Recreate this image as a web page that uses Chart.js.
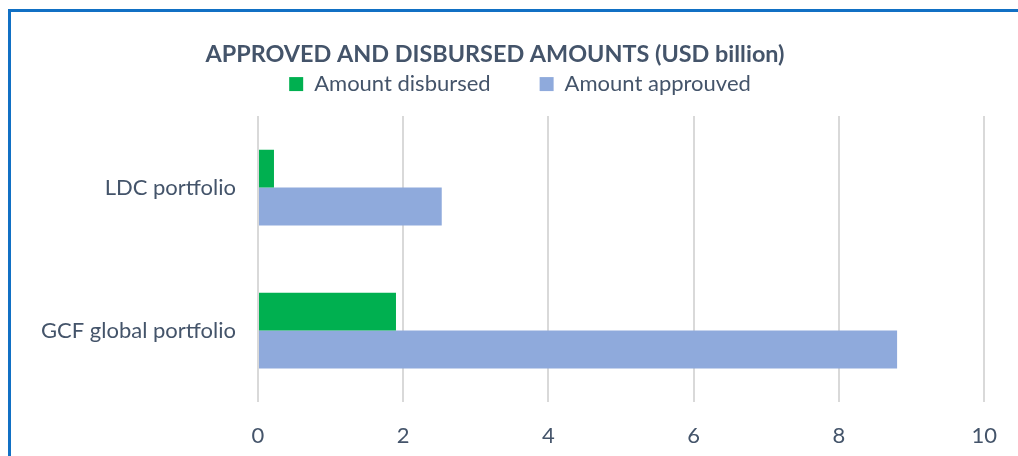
<!DOCTYPE html>
<html>
<head>
<meta charset="utf-8">
<script src="https://cdn.jsdelivr.net/npm/chart.js@4"></script>
<style>
  html, body { margin: 0; padding: 0; background: #fff; }
  #wrap { position: relative; width: 1018px; height: 456px; overflow: hidden; }
  #frame { position: absolute; left: 8px; top: 9px; width: 1040px; height: 500px;
           border-left: 3px solid #1170c4; border-top: 3px solid #1170c4; pointer-events: none; }
  canvas { position: absolute; left: 0; top: 0; }
</style>
</head>
<body>
<div id="wrap">
  <canvas id="chart" width="1018" height="456"></canvas>
  <div id="frame"></div>
</div>
<script>
const categories = ['LDC portfolio', 'GCF global portfolio'];
const disbursed = [0.22, 1.90];
const approved = [2.53, 8.80];
const xTicks = [0, 2, 4, 6, 8, 10];

const textColor = '#44546a';

// move title and legend to where the original has them
const shiftBoxes = {
  id: 'shiftBoxes',
  afterLayout(chart) {
    const t = chart.titleBlock;
    const tw = t.right - t.left;
    t.left = 495 - tw / 2;
    t.right = 495 + tw / 2;
    const l = chart.legend;
    const lw = l.right - l.left;
    l.left = 520 - lw / 2;
    l.right = 520 + lw / 2;
    l.top -= 11;
    l.bottom -= 11;
  }
};

const ctx = document.getElementById('chart');

new Chart(ctx, {
  type: 'bar',
  data: {
    labels: categories,
    datasets: [{
      label: 'Amount disbursed',
      data: disbursed,
      backgroundColor: '#00b050'
    }, {
      label: 'Amount approuved',
      data: approved,
      backgroundColor: '#8faadc'
    }]
  },
  options: {
    indexAxis: 'y',
    responsive: false,
    animation: false,
    categoryPercentage: 0.53,
    barPercentage: 1,
    layout: {
      padding: { left: 0, right: 30, top: 0, bottom: 0 }
    },
    plugins: {
      title: {
        display: true,
        text: 'APPROVED AND DISBURSED AMOUNTS (USD billion)',
        color: textColor,
        font: { family: 'Lato', size: 23.4, weight: 'bold' },
        padding: { top: 40, bottom: -33 }
      },
      legend: {
        position: 'top',
        labels: {
          color: textColor,
          font: { family: 'Lato', size: 22 },
          boxWidth: 14,
          boxHeight: 14,
          padding: 49
        }
      },
      tooltip: { enabled: false }
    },
    scales: {
      x: {
        min: 0,
        max: 10,
        afterBuildTicks(scale) {
          scale.ticks = xTicks.map(v => ({ value: v }));
        },
        afterFit(scale) {
          scale.height = 54;
        },
        grid: { color: '#d9d9d9', lineWidth: 2, drawTicks: false },
        border: { display: false },
        ticks: {
          color: textColor,
          font: { family: 'Lato', size: 22 },
          padding: 21
        }
      },
      y: {
        afterFit(scale) {
          scale.width = 258;
        },
        grid: { display: false, drawTicks: false },
        border: { display: false },
        ticks: {
          color: textColor,
          font: { family: 'Lato', size: 22 },
          padding: 22
        }
      }
    }
  },
  plugins: [shiftBoxes]
});
</script>
</body>
</html>
